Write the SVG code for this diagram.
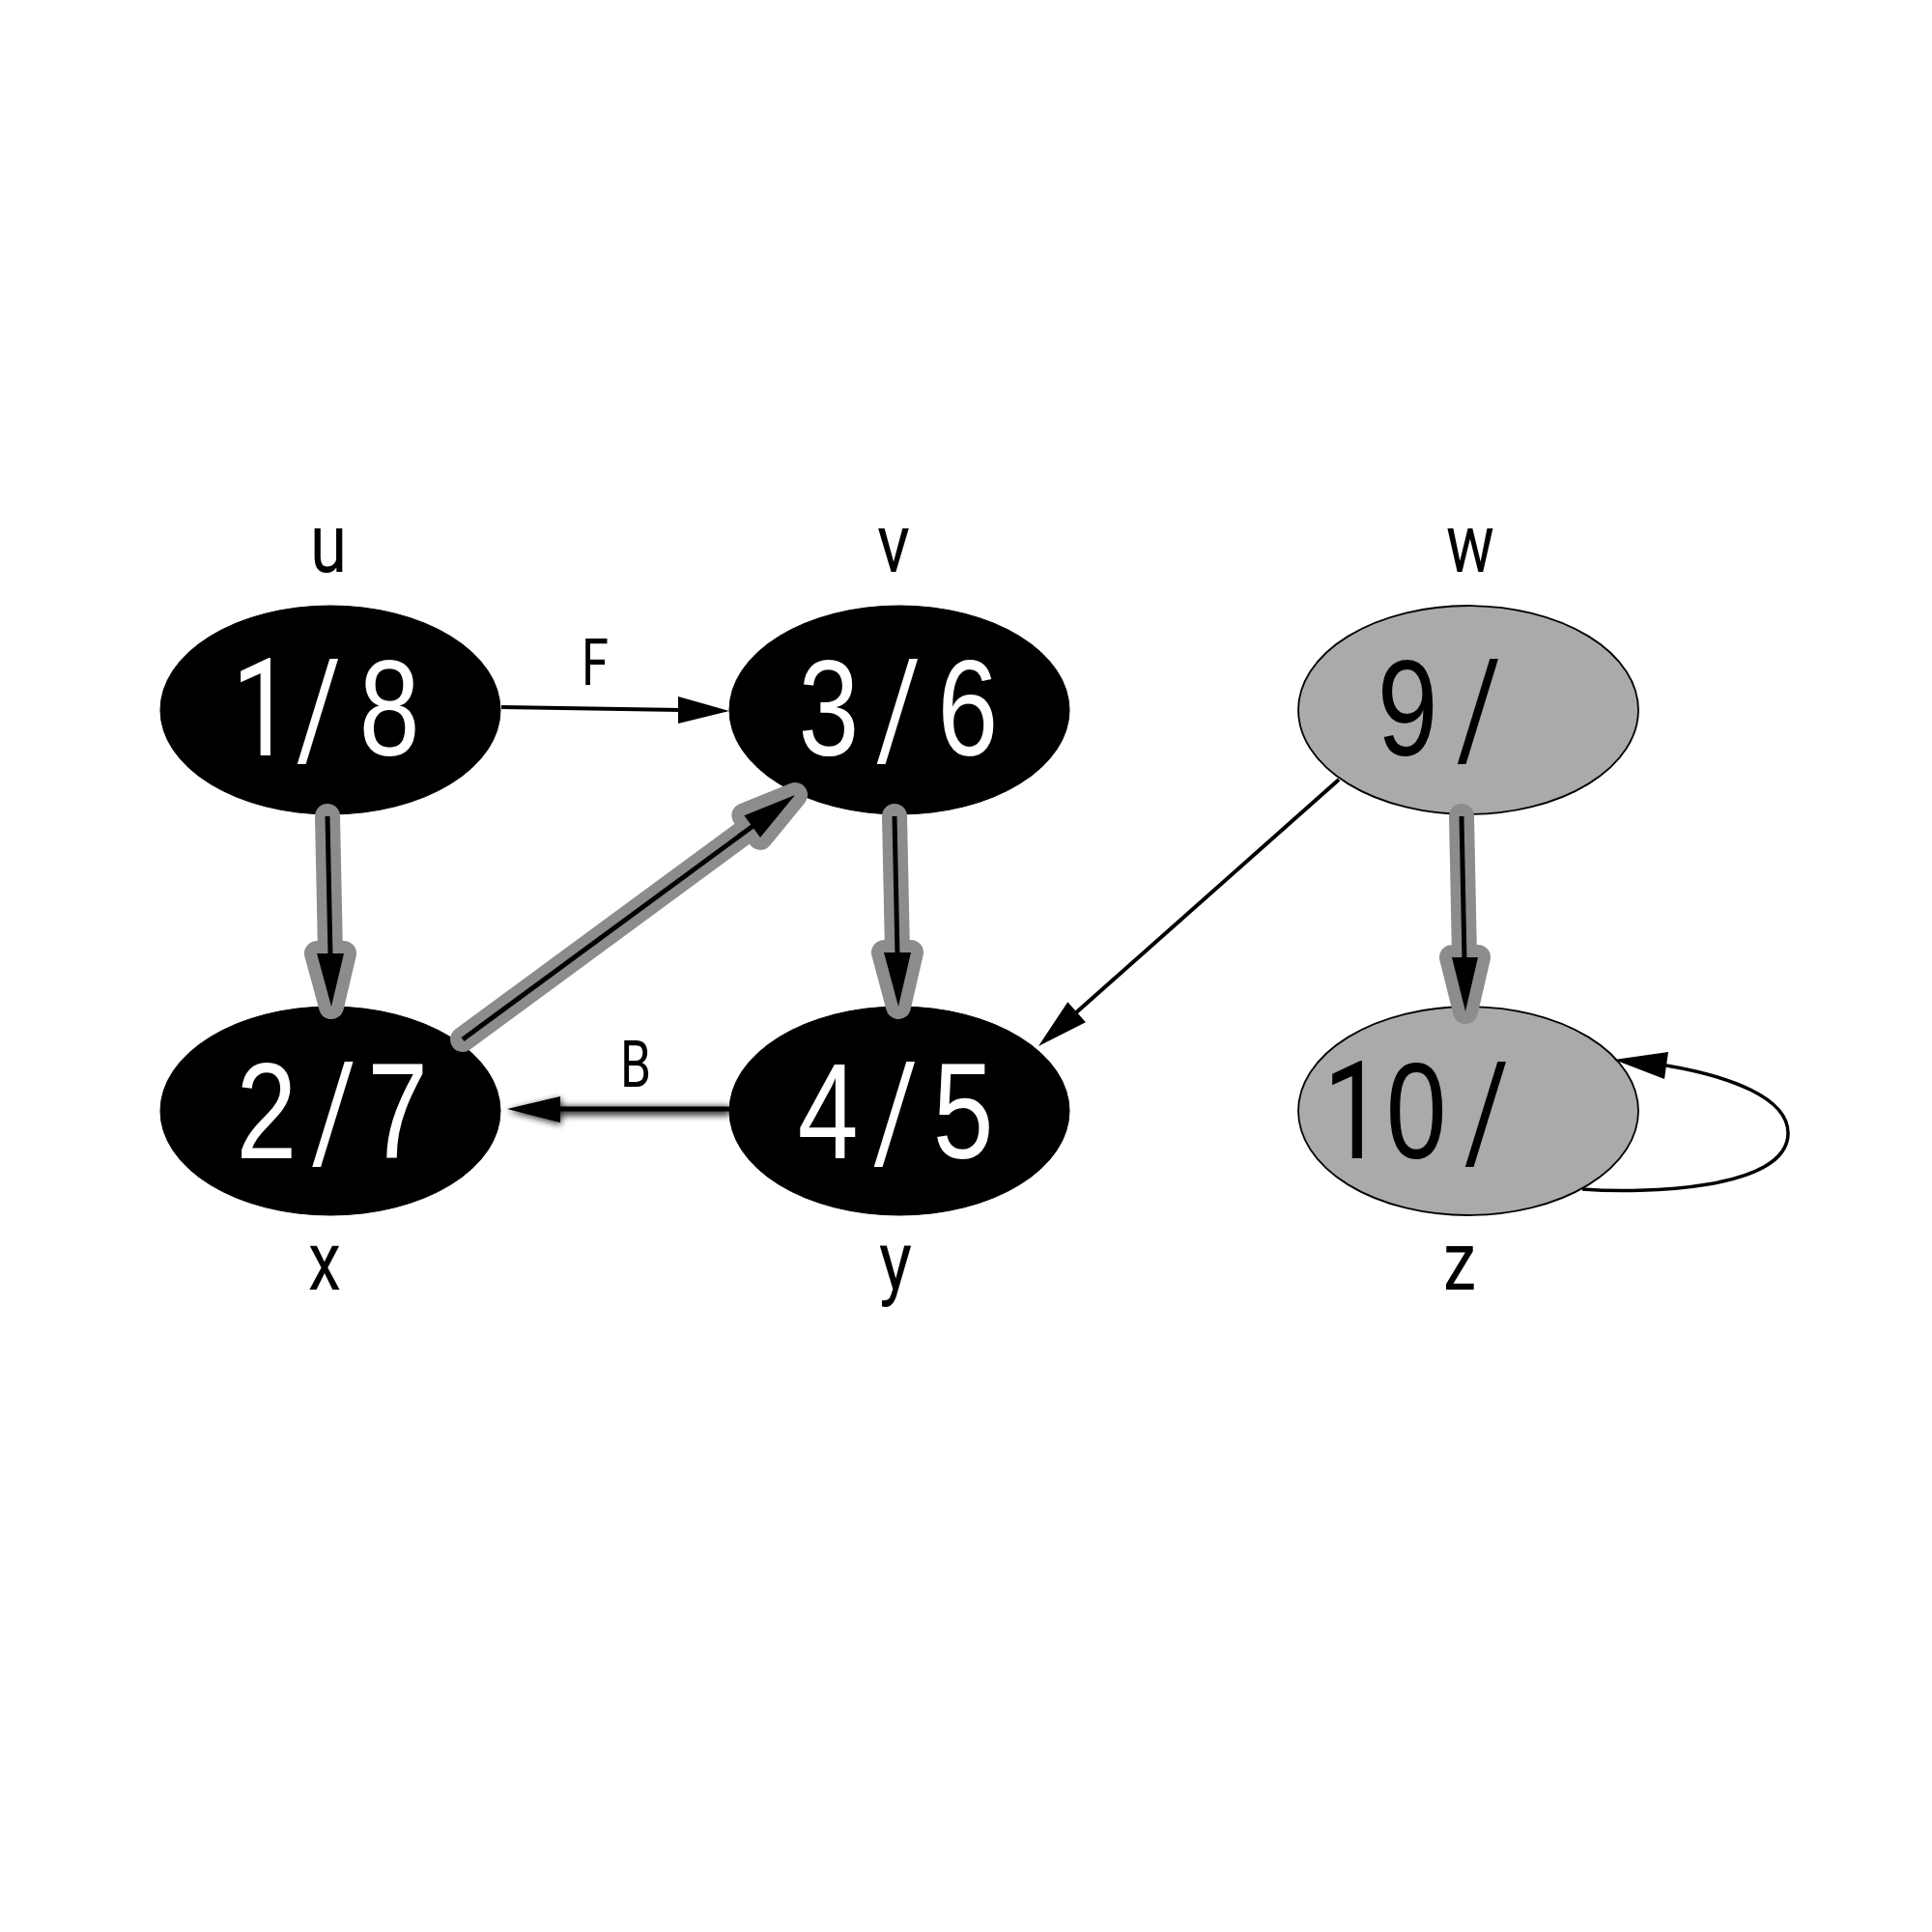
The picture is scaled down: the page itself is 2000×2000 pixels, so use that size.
<svg xmlns="http://www.w3.org/2000/svg" width="2000" height="2000" viewBox="0 0 2000 2000">
<defs>
<style>
.blk{fill:#000;stroke:#000;stroke-width:1}
.gry{fill:#aaaaaa;stroke:#000;stroke-width:1.8}
.num{font-family:"Liberation Sans",Arial,sans-serif;font-size:141px;text-anchor:middle}
.one{font-family:Roboto,"Liberation Sans",Arial,sans-serif}
.wt{fill:#fff}
.bt{fill:#000}
.lbl{font-family:Roboto,"Liberation Sans",Arial,sans-serif;font-size:86px;text-anchor:middle;fill:#000}
.elbl{font-family:Roboto,"Liberation Sans",Arial,sans-serif;font-size:66px;text-anchor:middle;fill:#000}
.halo{fill:#8c8c8c;stroke:#8c8c8c;stroke-width:26;stroke-linejoin:round;stroke-linecap:round}
.core{fill:none;stroke:#000;stroke-width:5}
.thin{fill:none;stroke:#000;stroke-width:4}
.head{fill:#000;stroke:none}
</style>
<filter id="blur" x="-20%" y="-200%" width="140%" height="500%">
<feGaussianBlur stdDeviation="3.5"/>
</filter>
</defs>
<rect width="2000" height="2000" fill="#fff"/>

<g id="node-u">
<ellipse class="blk" cx="342" cy="735" rx="176" ry="108"/>
<text class="num wt" transform="scale(0.8,1)" y="782"><tspan class="one" x="339.4">1</tspan><tspan class="one" x="412.5">/</tspan><tspan x="503.75">8</tspan></text>
<text class="lbl" x="340" y="592" textLength="38" lengthAdjust="spacingAndGlyphs">u</text>
</g>
<g id="node-v">
<ellipse class="blk" cx="931" cy="735" rx="176" ry="108"/>
<text class="num wt" transform="scale(0.8,1)" y="782"><tspan x="1072.5">3</tspan><tspan class="one" x="1162.5">/</tspan><tspan x="1252.5">6</tspan></text>
<text class="lbl" x="925" y="592" textLength="34" lengthAdjust="spacingAndGlyphs">v</text>
</g>
<g id="node-w">
<ellipse class="gry" cx="1520" cy="735" rx="176" ry="108"/>
<text class="num bt" transform="scale(0.8,1)" y="782"><tspan x="1821.25">9</tspan><tspan class="one" x="1913.75">/</tspan></text>
<text class="lbl" x="1522" y="592" textLength="50" lengthAdjust="spacingAndGlyphs">w</text>
</g>
<g id="node-x">
<ellipse class="blk" cx="342" cy="1150" rx="176" ry="108"/>
<text class="num wt" transform="scale(0.8,1)" y="1199"><tspan x="345">2</tspan><tspan class="one" x="431.9">/</tspan><tspan x="514.4">7</tspan></text>
<text class="lbl" x="336" y="1335" textLength="34" lengthAdjust="spacingAndGlyphs">x</text>
</g>
<g id="node-y">
<ellipse class="blk" cx="931" cy="1150" rx="176" ry="108"/>
<text class="num wt" transform="scale(0.8,1)" y="1199"><tspan x="1071.25">4</tspan><tspan class="one" x="1158.75">/</tspan><tspan x="1246.25">5</tspan></text>
<text class="lbl" x="927" y="1335" textLength="34" lengthAdjust="spacingAndGlyphs">y</text>
</g>
<g id="node-z">
<ellipse class="gry" cx="1520" cy="1150" rx="176" ry="108"/>
<text class="num bt" transform="scale(0.8,1)" y="1199"><tspan class="one" x="1751.9">1</tspan><tspan x="1832.5">0</tspan><tspan class="one" x="1923.75">/</tspan></text>
<text class="lbl" x="1511" y="1335" textLength="34" lengthAdjust="spacingAndGlyphs">z</text>
</g>

<g id="connectors">
<!-- u -> x (tree) -->
<g id="edge-u-x">
<path class="halo" d="M339,845 L342,987 M328,987 L356,987 L343,1042 Z"/>
<path class="core" d="M339,845 L342,990"/>
<polygon class="head" points="328,987 356,987 343,1042"/>
</g>
<!-- x -> v (tree) -->
<g id="edge-x-v">
<path class="halo" d="M479,1076 L778.7,855.6 M787,866.9 L770.4,844.3 L823,823 Z"/>
<path class="core" d="M479,1076 L781,854"/>
<polygon class="head" points="787,866.9 770.4,844.3 823,823"/>
</g>
<!-- v -> y (tree) -->
<g id="edge-v-y">
<path class="halo" d="M926,845 L929,986 M915,986 L943,986 L930,1042 Z"/>
<path class="core" d="M926,845 L929,989"/>
<polygon class="head" points="915,986 943,986 930,1042"/>
</g>
<!-- w -> z (tree) -->
<g id="edge-w-z">
<path class="halo" d="M1513,845 L1516,991 M1503,991 L1530,991 L1517,1047 Z"/>
<path class="core" d="M1513,845 L1516,994"/>
<polygon class="head" points="1503,991 1530,991 1517,1047"/>
</g>
<!-- u -> v (F) -->
<g id="edge-u-v">
<path class="thin" d="M519,732 L705,735"/>
<polygon class="head" points="702,721 702,749 755,736"/>
<text class="elbl" x="616" y="709" textLength="28" lengthAdjust="spacingAndGlyphs">F</text>
</g>
<!-- y -> x (B) -->
<g id="edge-y-x">
<g filter="url(#blur)" opacity="0.85" transform="translate(1,2)">
<path d="M755,1148 L575,1148" fill="none" stroke="#000" stroke-width="9"/>
<polygon points="580,1135 580,1162 525,1148" fill="#000"/>
</g>
<path class="core" d="M755,1148 L577,1148"/>
<polygon class="head" points="580,1135 580,1162 525,1148"/>
<text class="elbl" x="658" y="1125" textLength="32" lengthAdjust="spacingAndGlyphs">B</text>
</g>
<!-- w -> y (cross) -->
<g id="edge-w-y">
<path class="thin" d="M1386,807 L1112,1050"/>
<polygon class="head" points="1123.9,1058.3 1105.3,1037.3 1075,1083"/>
</g>
<!-- z -> z (self loop) -->
<g id="edge-z-z">
<path d="M1638,1231 C1700,1236 1851,1232 1851,1173 C1851,1136 1790,1114 1725,1103" fill="none" stroke="#000" stroke-width="3.5"/>
<polygon class="head" points="1727,1089 1723,1117 1671,1097"/>
</g>
</g>
</svg>
